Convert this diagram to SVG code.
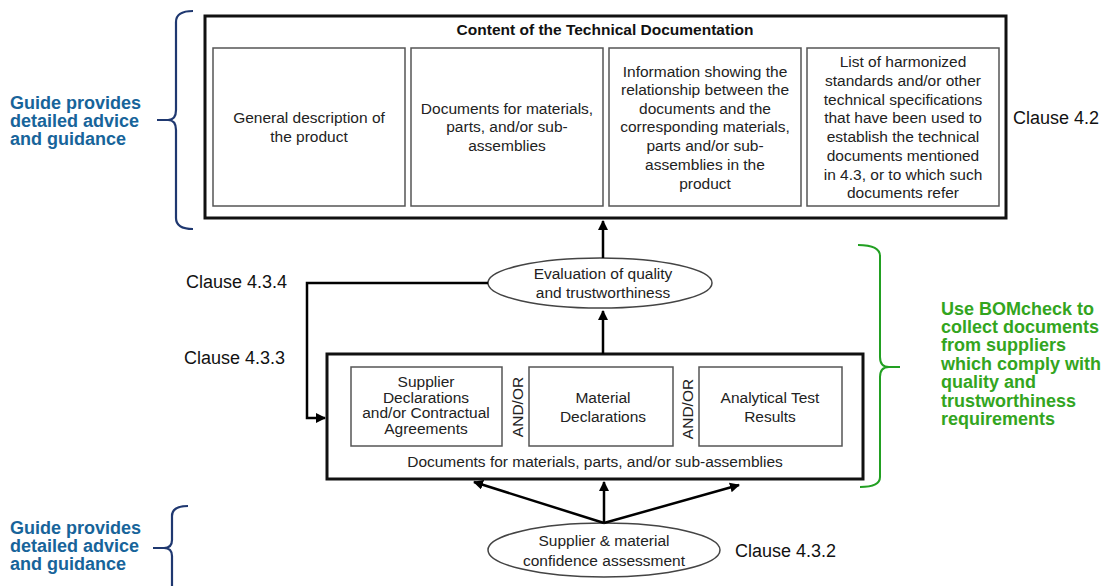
<svg xmlns="http://www.w3.org/2000/svg" width="1115" height="586" viewBox="0 0 1115 586">
<defs>
<marker id="ah" viewBox="0 0 10 10" refX="9" refY="5" markerWidth="4" markerHeight="4" orient="auto" markerUnits="strokeWidth">
<path d="M0,0 L10,5 L0,10 z" fill="#000"/>
</marker>
<style>
.t{font-family:"Liberation Sans",Arial,sans-serif;font-size:15.5px;fill:#222;text-anchor:middle}
.tb{font-family:"Liberation Sans",Arial,sans-serif;font-size:15.5px;font-weight:bold;fill:#111;text-anchor:middle}
.cl{font-family:"Liberation Sans",Arial,sans-serif;font-size:18px;fill:#111}
.blue{font-family:"Liberation Sans",Arial,sans-serif;font-size:18px;font-weight:bold;fill:#17649a}
.green{font-family:"Liberation Sans",Arial,sans-serif;font-size:18px;font-weight:bold;fill:#33a51e}
.outer{fill:#fff;stroke:#111;stroke-width:3}
.inner{fill:#fff;stroke:#555;stroke-width:1.5}
.ell{fill:#fff;stroke:#444;stroke-width:1.5}
.conn{fill:none;stroke:#000;stroke-width:2.5;marker-end:url(#ah)}
.bb{fill:none;stroke:#1f3870;stroke-width:2.2}
.gb{fill:none;stroke:#22a022;stroke-width:2}
</style>
</defs>
<rect width="1115" height="586" fill="#fff"/>

<g id="content-box">
<rect class="outer" x="205" y="16" width="801" height="202"/>
<text class="tb" x="605" y="35">Content of the Technical Documentation</text>
</g>
<g id="box-general">
<rect class="inner" x="213" y="48" width="192" height="158"/>
<text class="t" x="309" y="123">General description of</text>
<text class="t" x="309" y="142">the product</text>
</g>
<g id="box-documents">
<rect class="inner" x="411" y="48" width="192" height="158"/>
<text class="t" x="507" y="114">Documents for materials,</text>
<text class="t" x="507" y="132">parts, and/or sub-</text>
<text class="t" x="507" y="151">assemblies</text>
</g>
<g id="box-information">
<rect class="inner" x="609" y="48" width="192" height="158"/>
<text class="t" x="705" y="77">Information showing the</text>
<text class="t" x="705" y="95">relationship between the</text>
<text class="t" x="705" y="114">documents and the</text>
<text class="t" x="705" y="132">corresponding materials,</text>
<text class="t" x="705" y="151">parts and/or sub-</text>
<text class="t" x="705" y="170">assemblies in the</text>
<text class="t" x="705" y="189">product</text>
</g>
<g id="box-standards">
<rect class="inner" x="807" y="48" width="192" height="158"/>
<text class="t" x="903" y="67">List of harmonized</text>
<text class="t" x="903" y="86">standards and/or other</text>
<text class="t" x="903" y="105">technical specifications</text>
<text class="t" x="903" y="123">that have been used to</text>
<text class="t" x="903" y="142">establish the technical</text>
<text class="t" x="903" y="161">documents mentioned</text>
<text class="t" x="903" y="180">in 4.3, or to which such</text>
<text class="t" x="903" y="198">documents refer</text>
</g>
<g id="clause-42"><text class="cl" x="1013" y="124">Clause 4.2</text></g>

<g id="guide-top">
<path class="bb" d="M193,11 Q176,11 176,22 V110 Q176,120 168,120 M157,120 H168 Q176,120 176,130 V218 Q176,229 193,229"/>
<text class="blue" x="10" y="109">Guide provides</text>
<text class="blue" x="10" y="127">detailed advice</text>
<text class="blue" x="10" y="145">and guidance</text>
</g>

<g id="evaluation">
<ellipse class="ell" cx="600" cy="283" rx="112" ry="25"/>
<text class="t" x="603" y="279">Evaluation of quality</text>
<text class="t" x="603" y="298">and trustworthiness</text>
</g>
<g id="clause-434"><text class="cl" x="186" y="288">Clause 4.3.4</text></g>
<g id="clause-433"><text class="cl" x="184" y="364">Clause 4.3.3</text></g>

<g id="documents-box">
<rect class="outer" x="327" y="354" width="536" height="125"/>
<text class="t" x="595" y="467">Documents for materials, parts, and/or sub-assemblies</text>
</g>
<g id="supplier-declarations">
<rect class="inner" x="351" y="367" width="151" height="79"/>
<text class="t" x="426" y="387">Supplier</text>
<text class="t" x="426" y="403">Declarations</text>
<text class="t" x="426" y="418">and/or Contractual</text>
<text class="t" x="426" y="434">Agreements</text>
</g>
<g id="andor-1"><text class="t" transform="translate(523,407) rotate(-90)">AND/OR</text></g>
<g id="material-declarations">
<rect class="inner" x="529" y="367" width="144" height="79"/>
<text class="t" x="603" y="403">Material</text>
<text class="t" x="603" y="422">Declarations</text>
</g>
<g id="andor-2"><text class="t" transform="translate(693,409) rotate(-90)">AND/OR</text></g>
<g id="analytical-test">
<rect class="inner" x="699" y="367" width="143" height="79"/>
<text class="t" x="770" y="403">Analytical Test</text>
<text class="t" x="770" y="422">Results</text>
</g>

<g id="bomcheck">
<path class="gb" d="M858,245 Q880,245 880,256 V357 Q880,367 889,367 H900 M889,367 Q880,367 880,377 V477 Q880,487 860,487"/>
<text class="green" x="941" y="315">Use BOMcheck to</text>
<text class="green" x="941" y="333">collect documents</text>
<text class="green" x="941" y="351">from suppliers</text>
<text class="green" x="941" y="370">which comply with</text>
<text class="green" x="941" y="388">quality and</text>
<text class="green" x="941" y="407">trustworthiness</text>
<text class="green" x="941" y="425">requirements</text>
</g>

<g id="confidence">
<ellipse class="ell" cx="604" cy="550" rx="116" ry="27"/>
<text class="t" x="604" y="546">Supplier &amp; material</text>
<text class="t" x="604" y="566">confidence assessment</text>
</g>
<g id="clause-432"><text class="cl" x="735" y="557">Clause 4.3.2</text></g>

<g id="guide-bottom">
<path class="bb" d="M188,506 Q172,506 172,516 V540 Q172,548 164,548 M153,548 H164 Q172,548 172,556 V586"/>
<text class="blue" x="10" y="534">Guide provides</text>
<text class="blue" x="10" y="552">detailed advice</text>
<text class="blue" x="10" y="570">and guidance</text>
</g>

<g id="connectors">
<path class="conn" d="M603,258 V221"/>
<path class="conn" d="M603,354 V311"/>
<path class="conn" d="M488,283 H307 V418 H325"/>
<path class="conn" d="M604,523 V482"/>
<path class="conn" d="M604,523 L474,482"/>
<path class="conn" d="M604,523 L739,485"/>
</g>
</svg>
